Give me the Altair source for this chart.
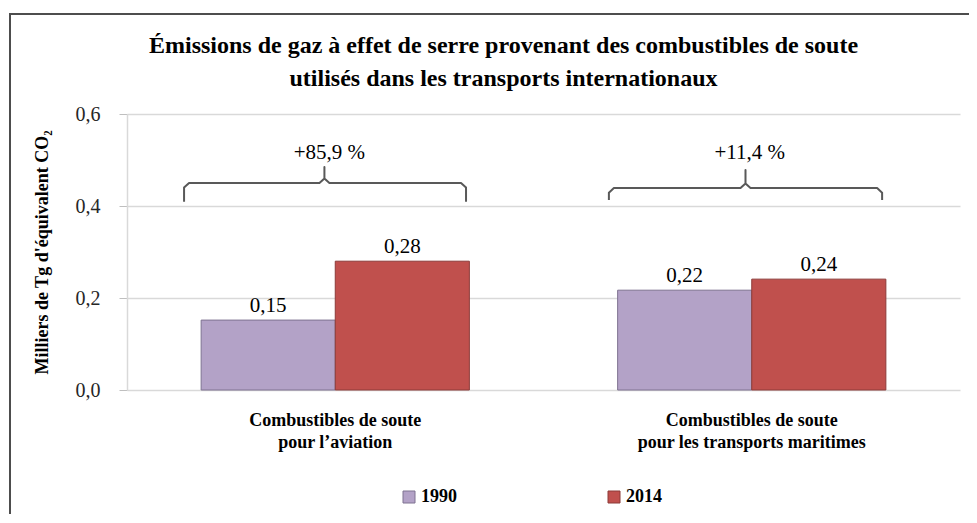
import altair as alt
import pandas as pd

SERIF = "Liberation Serif"

# ---- data ----
categories = ["Combustibles de soute|pour l’aviation",
              "Combustibles de soute|pour les transports maritimes"]
years = ["1990", "2014"]
values_1990 = [0.152, 0.217]
values_2014 = [0.280, 0.241]
y_ticks = [0.0, 0.2, 0.4, 0.6]
colors = ["#B3A2C7", "#C0504D"]
strokes = ["#7F7391", "#8C3B39"]

brace_labels = ["+85,9 %", "+11,4 %"]
brace_label_x = [0.486, 1.495]
brace_label_y = [0.515, 0.515]
brace_left = [0.137, 1.157]
brace_right = [0.814, 1.813]
brace_center = [0.474, 1.485]
brace_tip_y = [0.409, 0.413]
brace_line_y = [0.450, 0.439]
brace_peak_y = [0.485, 0.478]
corner_dx = 0.012
corner_dy = 0.010

y_title = "Milliers de Tg d'équivalent CO₂"

bars_df = pd.DataFrame({
    "cat": categories * 2,
    "year": [years[0]] * 2 + [years[1]] * 2,
    "value": values_1990 + values_2014,
})

rows = []
for b in range(len(brace_labels)):
    L, R, C = brace_left[b], brace_right[b], brace_center[b]
    t, h, p = brace_tip_y[b], brace_line_y[b], brace_peak_y[b]
    pts = [(L, t), (L, h - corner_dy), (L + corner_dx, h), (C - corner_dx, h),
           (C, h + corner_dy), (C, p), (C, h + corner_dy), (C + corner_dx, h),
           (R - corner_dx, h), (R, h - corner_dy), (R, t)]
    for i, (x, y) in enumerate(pts):
        rows.append({"brace": b, "i": i, "bx": x, "value": y})
brace_df = pd.DataFrame(rows)
brace_lab_df = pd.DataFrame({"bx": brace_label_x, "value": brace_label_y, "label": brace_labels})

# ---- chart ----
x_enc = alt.X("cat:N", sort=categories, title=None,
              scale=alt.Scale(paddingInner=0.356, paddingOuter=0.178),
              axis=alt.Axis(labelExpr="split(datum.label, '|')", labelAngle=0,
                            labelFont=SERIF, labelFontSize=18, labelFontWeight="bold",
                            labelColor="#000000", labelLineHeight=22, labelPadding=21,
                            labelLimit=400, ticks=False, domain=False))
y_enc = alt.Y("value:Q", title=y_title, scale=alt.Scale(domain=[0, 0.6]),
              axis=alt.Axis(values=y_ticks,
                            labelExpr="replace(format(datum.value, '.1f'), '.', ',')"))
color_enc = alt.Color("year:N", sort=years, title=None,
                      scale=alt.Scale(domain=years, range=colors))
stroke_enc = alt.Stroke("year:N", sort=years, title=None,
                        scale=alt.Scale(domain=years, range=strokes))

base = alt.Chart(bars_df).encode(
    x=x_enc,
    xOffset=alt.XOffset("year:N", sort=years),
    y=y_enc,
)
bars = base.mark_bar(strokeWidth=1).encode(color=color_enc, stroke=stroke_enc)
bar_text = base.transform_calculate(
    label="replace(format(datum.value, '.2f'), '.', ',')"
).mark_text(dy=-8, baseline="alphabetic", font=SERIF, fontSize=21, color="#000000").encode(
    text="label:N",
)

bar_layer = alt.layer(bars, bar_text)

bx_scale = alt.Scale(domain=[0, 2])
braces = alt.Chart(brace_df).mark_line(stroke="#595959", strokeWidth=2, strokeJoin="round").encode(
    x=alt.X("bx:Q", scale=bx_scale, axis=None),
    y=alt.Y("value:Q", title=y_title),
    detail="brace:N",
    order="i:Q",
)
brace_text = alt.Chart(brace_lab_df).mark_text(font=SERIF, fontSize=21, color="#000000",
                                               baseline="middle").encode(
    x=alt.X("bx:Q", scale=bx_scale, axis=None),
    y=alt.Y("value:Q", title=y_title),
    text="label:N",
)
brace_layer = alt.layer(braces, brace_text)

frame = alt.Chart(pd.DataFrame({"k": [0]})).mark_rect(
    fillOpacity=0, stroke="#4D4D4D", strokeWidth=2
).encode(x=alt.value(-117), y=alt.value(-100), x2=alt.value(900), y2=alt.value(520))

chart = alt.layer(frame, bar_layer, brace_layer).resolve_scale(
    x="independent"
).properties(
    width=833,
    height=276,
    autosize=alt.AutoSizeParams(type="none"),
    padding={"left": 119, "top": 106, "right": 9, "bottom": 124},
    title=alt.Title(
        text=["Émissions de gaz à effet de serre provenant des combustibles de soute",
              "utilisés dans les transports internationaux"],
        font=SERIF, fontSize=24, fontWeight="bold", color="#000000",
        anchor="middle", frame="group", lineHeight=33, offset=-78, dx=-40,
    ),
).configure_view(stroke=None).configure_axisY(
    labelFont=SERIF, labelFontSize=20, labelColor="#262626", labelPadding=19,
    tickColor="#BFBFBF", tickSize=8, domainColor="#D9D9D9", domainWidth=1.5,
    gridColor="#D9D9D9", gridWidth=1.5,
    titleFont=SERIF, titleFontSize=18, titleFontWeight="bold", titleColor="#000000",
    titlePadding=24,
).configure_legend(
    orient="none", legendX=273, legendY=374, direction="horizontal",
    symbolType="square", symbolSize=144, symbolStrokeWidth=1,
    labelFont=SERIF, labelFontSize=18, labelFontWeight="bold", labelColor="#000000",
    labelOffset=3, columnPadding=148,
)

chart.save("out.html", embed_options={"renderer": "svg", "actions": False})
